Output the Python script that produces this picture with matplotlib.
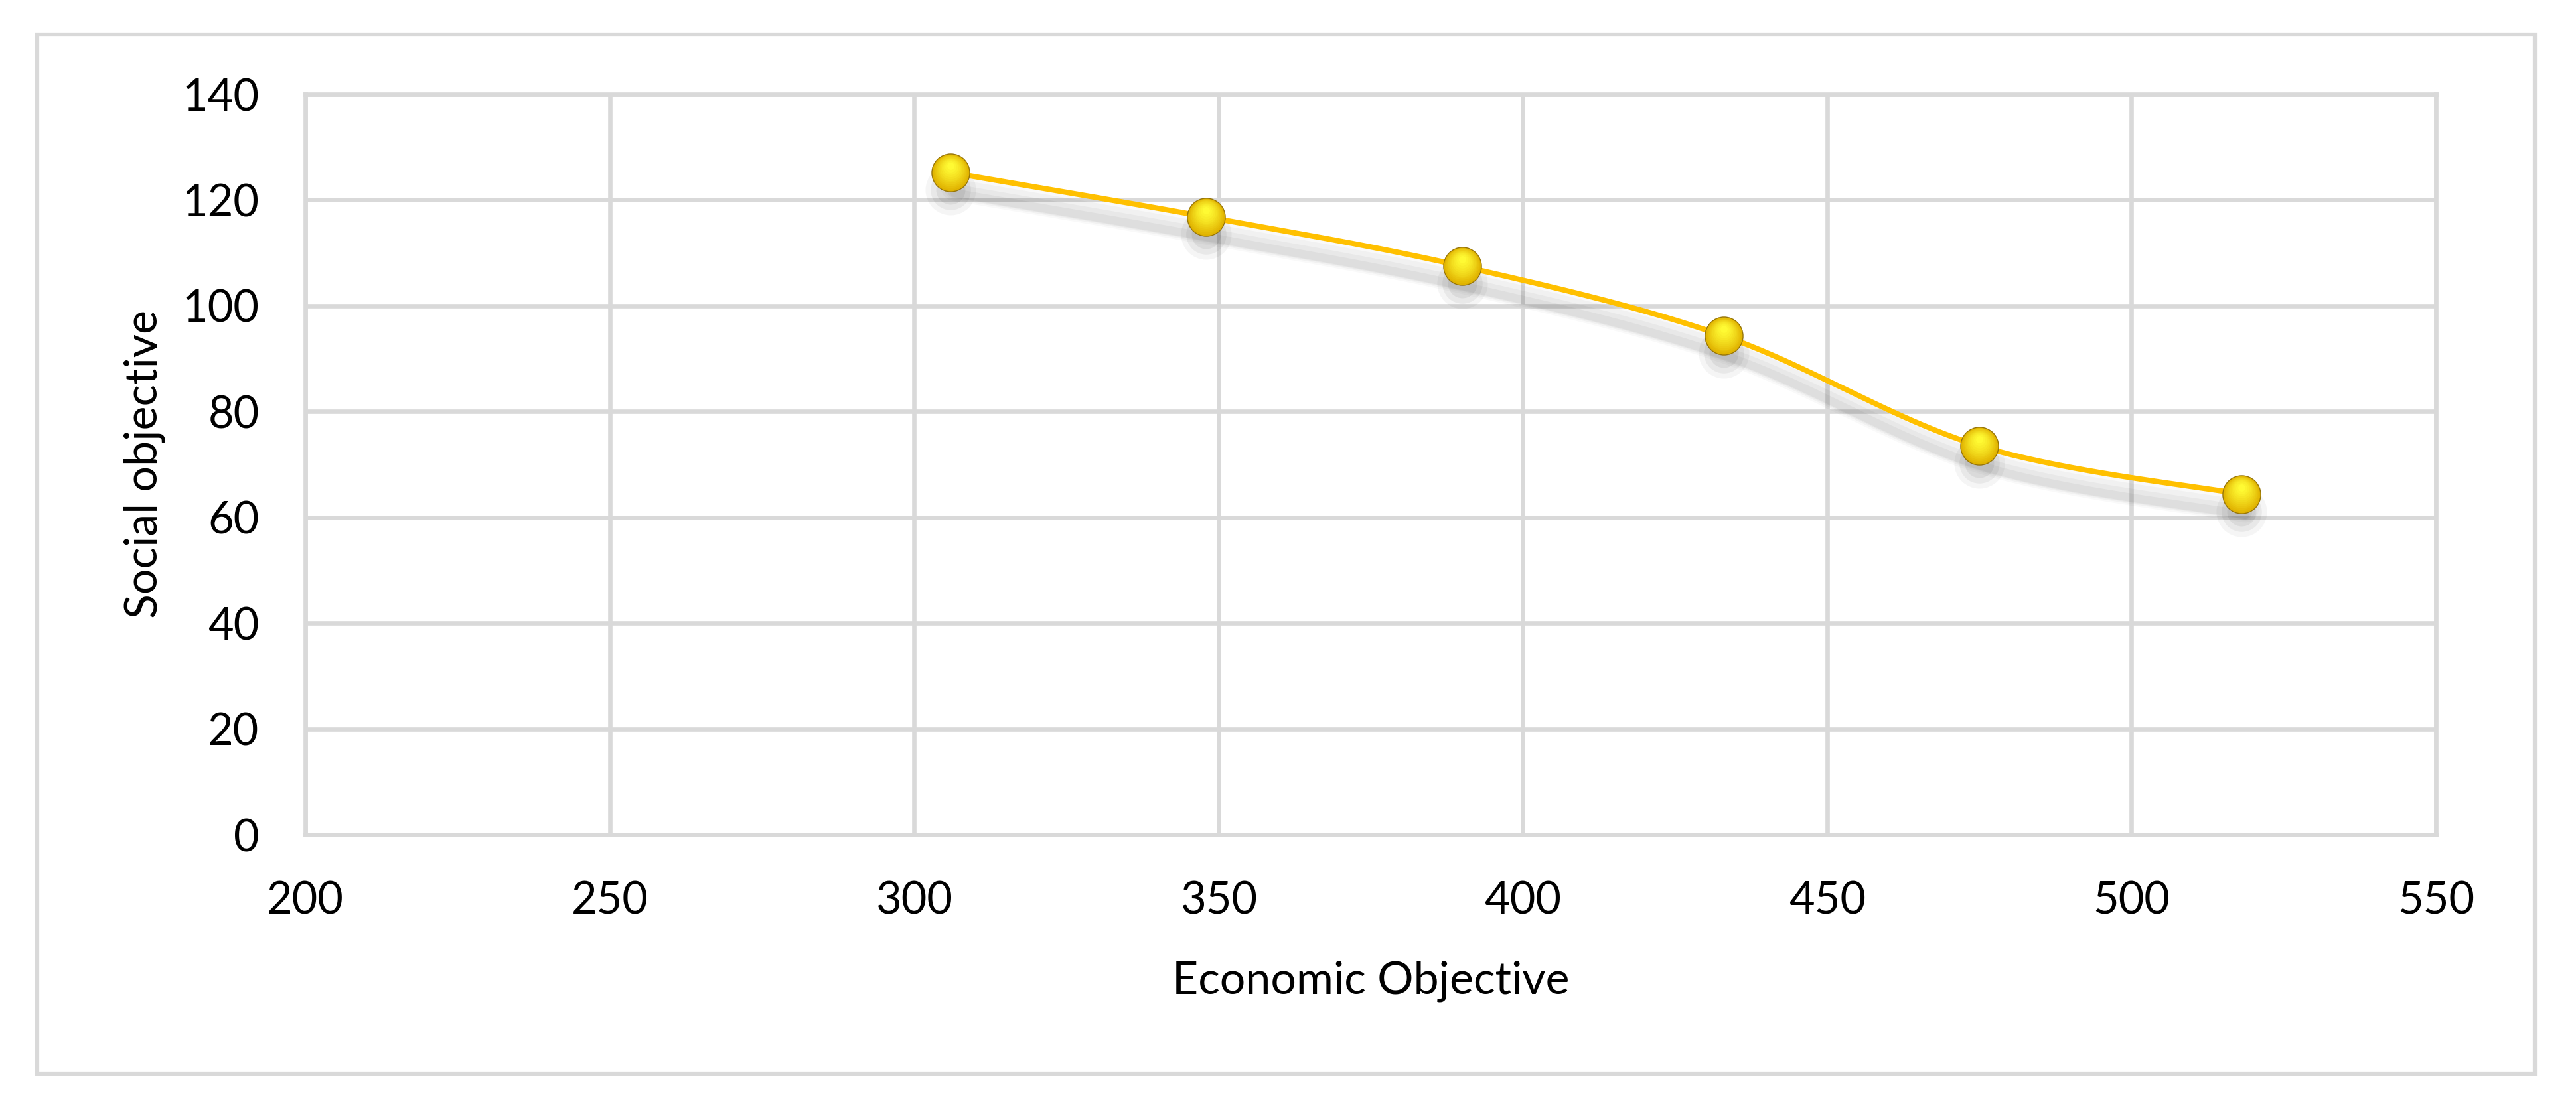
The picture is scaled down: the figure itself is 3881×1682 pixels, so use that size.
import numpy as np
import matplotlib
matplotlib.use("Agg")
import matplotlib.pyplot as plt
import matplotlib.patches as mpatches
import matplotlib.transforms as mtransforms

# ---- data ----
economic = [306, 348, 390, 433, 475, 518]
social = [125.2, 116.8, 107.5, 94.3, 73.5, 64.4]
x_ticks = [200, 250, 300, 350, 400, 450, 500, 550]
y_ticks = [0, 20, 40, 60, 80, 100, 120, 140]
x_label = "Economic Objective"
y_label = "Social objective"

plt.rcParams['font.family'] = ['Lato', 'DejaVu Sans']

W, H = 3881, 1682
fig = plt.figure(figsize=(W / 100, H / 100), dpi=100)
fig.patch.set_facecolor('white')

# plot area
L, T, R, B = 460, 142, 3670, 1258
ax = fig.add_axes([L / W, 1 - B / H, (R - L) / W, (B - T) / H])
ax.set_xlim(x_ticks[0], x_ticks[-1])
ax.set_ylim(y_ticks[0], y_ticks[-1])
ax.set_xticks(x_ticks)
ax.set_yticks(y_ticks)
ax.tick_params(length=0, labelsize=48, colors='black')
ax.tick_params(axis='y', pad=50)
ax.tick_params(axis='x', pad=50)
ax.grid(True, color='#D9D9D9', lw=4.8)
ax.set_axisbelow(True)
for s in ax.spines.values():
    s.set_color('#D9D9D9')
    s.set_linewidth(4.8)
ax.set_xlabel(x_label, fontsize=49, labelpad=42)
ax.set_ylabel(y_label, fontsize=49, labelpad=18)

# outer chart frame
fig.patches.append(mpatches.Rectangle((56 / W, 1 - 1618 / H), (3819 - 56) / W, (1618 - 52) / H,
                                      transform=fig.transFigure, fill=False,
                                      edgecolor='#D9D9D9', lw=4.5, zorder=0))

# smoothed line (Bezier smoothing like Excel's smoothed line)
px = np.array(economic, float)
py = np.array(social, float)
P = np.column_stack([px, py])
ext = np.vstack([P[0], P, P[-1]])
curve = []
t = np.linspace(0, 1, 60)
for i in range(1, len(ext) - 2):
    p0, p1, p2, p3 = ext[i - 1], ext[i], ext[i + 1], ext[i + 2]
    c1 = p1 + (p2 - p0) / 6.0
    c2 = p2 - (p3 - p1) / 6.0
    seg = ((1 - t) ** 3)[:, None] * p1 + (3 * (1 - t) ** 2 * t)[:, None] * c1 \
        + (3 * (1 - t) * t ** 2)[:, None] * c2 + (t ** 3)[:, None] * p2
    curve.append(seg)
curve = np.vstack(curve)

# soft shadow
for dy, a, lw in [(-22, 0.025, 30), (-25, 0.03, 22), (-28, 0.035, 15), (-31, 0.04, 9)]:
    tr = mtransforms.offset_copy(ax.transData, fig=fig, x=6, y=dy, units='dots')
    ax.plot(curve[:, 0], curve[:, 1], color='black', alpha=a, lw=lw, transform=tr,
            solid_capstyle='round', zorder=2)
# marker shadows
for dy, a, s in [(-26, 0.04, 3000), (-26, 0.05, 1900), (-26, 0.06, 1000)]:
    tr = mtransforms.offset_copy(ax.transData, fig=fig, x=0, y=dy, units='dots')
    ax.scatter(px, py, s=s, color='black', alpha=a, lw=0, transform=tr, zorder=2)

ax.plot(curve[:, 0], curve[:, 1], color='#FFC000', lw=5.8, zorder=3, solid_capstyle='round')

# spherical markers
ax.scatter(px, py, s=1650, color='#C29A00', edgecolor='#96750A', lw=1.5, zorder=4)
steps = 12
for k in range(steps):
    f = k / (steps - 1)
    size = 1550 * (1 - f) ** 1.2 + 60
    col = (0.88 + 0.12 * f, 0.70 + 0.28 * f, 0.0 + 0.2 * f)
    tr = mtransforms.offset_copy(ax.transData, fig=fig, x=0, y=10 * f, units='dots')
    ax.scatter(px, py, s=size, color=col, lw=0, transform=tr, zorder=5)

fig.savefig("out.png", dpi=100, facecolor='white')
